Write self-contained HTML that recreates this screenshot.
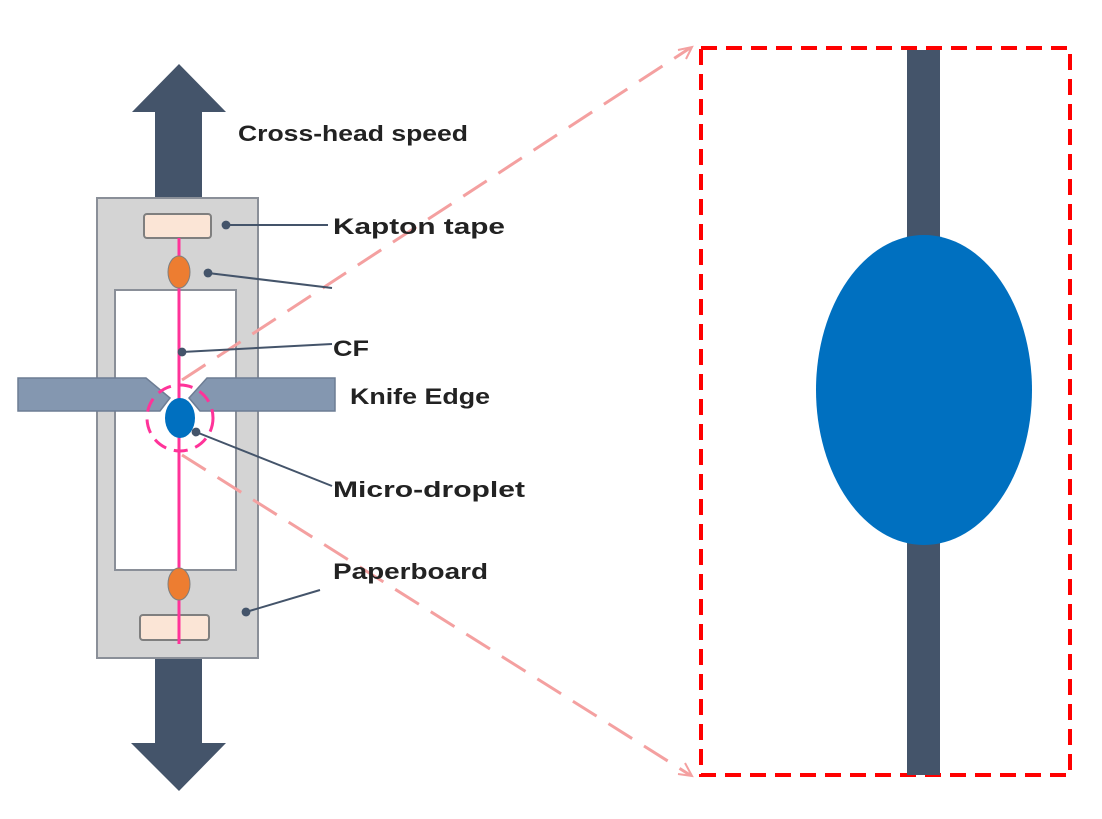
<!DOCTYPE html>
<html><head><style>body{margin:0;background:#fff}svg{display:block}</style></head><body>
<svg width="1102" height="819" viewBox="0 0 1102 819" xmlns="http://www.w3.org/2000/svg" font-family="Liberation Sans, sans-serif" font-weight="bold" font-size="22" fill="#222">
<defs><marker id="a" markerWidth="6" markerHeight="6" refX="3" refY="3" orient="auto"><circle cx="3" cy="3" r="2.2" fill="#44546a"/></marker></defs>
<!-- top arrow -->
<polygon points="155,198 155,112 132,112 179,64 226,112 202,112 202,198" fill="#44546a"/>
<polygon points="155,658 155,743 131,743 179,791 226,743 202,743 202,658" fill="#44546a"/>
<!-- paperboard -->
<rect x="97" y="198" width="161" height="460" fill="#d4d4d4" stroke="#8a8f98" stroke-width="2"/>
<rect x="115" y="290" width="121" height="280" fill="#fff" stroke="#8a8f98" stroke-width="2"/>
<rect x="144" y="214" width="67" height="24" rx="3" fill="#fbe5d6" stroke="#7f7f7f" stroke-width="2"/>
<rect x="140" y="615" width="69" height="25" rx="3" fill="#fbe5d6" stroke="#7f7f7f" stroke-width="2"/>
<line x1="179" y1="238" x2="179" y2="644" stroke="#ff3399" stroke-width="3"/>
<ellipse cx="179" cy="272" rx="11" ry="16" fill="#ed7d31" stroke="#7f7f7f"/>
<ellipse cx="179" cy="584" rx="11" ry="16" fill="#ed7d31" stroke="#7f7f7f"/>
<!-- knife -->
<polygon points="18,378 146,378 170,398 160,411 18,411" fill="#8497b0" stroke="#6d7d94" stroke-width="1.5"/>
<polygon points="335,378 207,378 189,398 200,411 335,411" fill="#8497b0" stroke="#6d7d94" stroke-width="1.5"/>
<ellipse cx="180" cy="418" rx="15" ry="20" fill="#0070c0"/>
<circle cx="180" cy="418" r="33" fill="none" stroke="#ff3399" stroke-width="3" stroke-dasharray="14,8"/>
<!-- zoom lines -->
<line x1="182" y1="380" x2="690" y2="48" stroke="#f4a0a0" stroke-width="3" stroke-dasharray="28,14"/>
<line x1="182" y1="455" x2="690" y2="775" stroke="#f4a0a0" stroke-width="3" stroke-dasharray="28,14"/>
<polyline points="678,50 692,47 686,59" fill="none" stroke="#f4a0a0" stroke-width="2"/>
<polyline points="678,774 692,776 685,763" fill="none" stroke="#f4a0a0" stroke-width="2"/>
<!-- leaders -->
<g stroke="#44546a" stroke-width="2" fill="none" marker-end="url(#a)">
<line x1="328" y1="225" x2="226" y2="225"/>
<line x1="332" y1="288" x2="208" y2="273"/>
<line x1="332" y1="344" x2="182" y2="352"/>
<line x1="332" y1="486" x2="196" y2="432"/>
<line x1="320" y1="590" x2="246" y2="612"/>
</g>
<text x="238" y="141" textLength="230" lengthAdjust="spacingAndGlyphs">Cross-head speed</text>
<text x="333" y="234" textLength="172" lengthAdjust="spacingAndGlyphs">Kapton tape</text>
<text x="333" y="356" textLength="36" lengthAdjust="spacingAndGlyphs">CF</text>
<text x="350" y="404" textLength="140" lengthAdjust="spacingAndGlyphs">Knife Edge</text>
<text x="333" y="497" textLength="192" lengthAdjust="spacingAndGlyphs">Micro-droplet</text>
<text x="333" y="579" textLength="155" lengthAdjust="spacingAndGlyphs">Paperboard</text>
<!-- right panel -->
<rect x="701" y="48" width="369" height="727" fill="none" stroke="#ff0000" stroke-width="4" stroke-dasharray="16,9"/>
<rect x="907" y="50" width="33" height="725" fill="#44546a"/>
<ellipse cx="924" cy="390" rx="108" ry="155" fill="#0070c0"/>
</svg>
</body></html>
